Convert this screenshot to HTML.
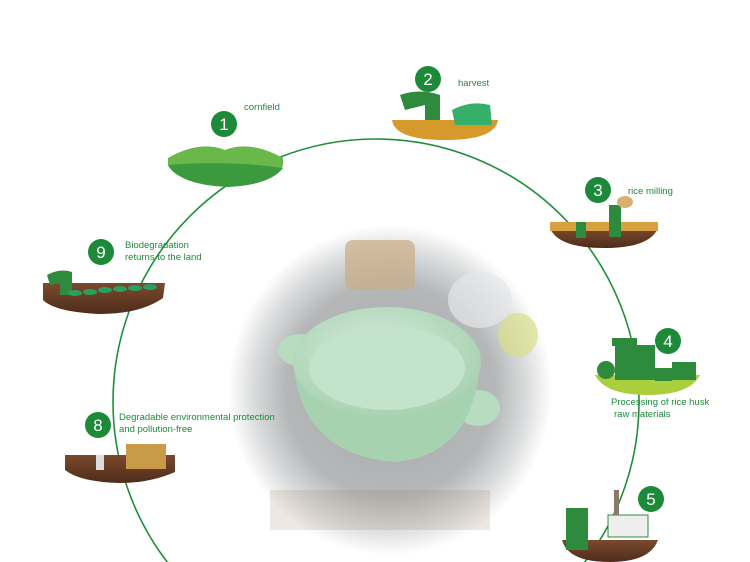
<!DOCTYPE html>
<html><head><meta charset="utf-8"><style>
html,body{margin:0;padding:0;background:#fff;width:750px;height:562px;overflow:hidden}
svg{display:block;position:absolute;left:0;top:0}
text{font-family:"Liberation Sans",sans-serif;fill:#1d8a3a;font-size:9.5px}
.n{fill:#fff;font-size:17px;text-anchor:middle}
</style></head><body>
<svg width="750" height="562" viewBox="0 0 750 562">
<defs>
<radialGradient id="ph" cx="0.5" cy="0.5" r="0.5">
<stop offset="0" stop-color="#a5a7a9"/><stop offset="0.65" stop-color="#b5b7b8"/><stop offset="0.85" stop-color="#dcddde"/><stop offset="1" stop-color="#fff"/>
</radialGradient>
<radialGradient id="bw" cx="0.45" cy="0.4" r="0.6"><stop offset="0" stop-color="#d5ecd9"/><stop offset="1" stop-color="#a9d2b2"/></radialGradient>
<linearGradient id="soil" x1="0" y1="0" x2="0" y2="1"><stop offset="0" stop-color="#7a4a2e"/><stop offset="1" stop-color="#4e2c1a"/></linearGradient>
</defs>
<circle cx="376" cy="402" r="263" fill="none" stroke="#1f8f3c" stroke-width="1.6"/>
<!-- photo -->
<ellipse cx="390" cy="390" rx="162" ry="165" fill="url(#ph)"/>
<rect x="345" y="240" width="70" height="50" rx="8" fill="#c9ad88" opacity="0.75"/>
<ellipse cx="518" cy="335" rx="20" ry="22" fill="#d7df86" opacity="0.7"/>
<ellipse cx="480" cy="300" rx="32" ry="28" fill="#e6e7e8" opacity="0.7"/>
<rect x="270" y="490" width="220" height="40" fill="#9a8060" opacity="0.18"/>
<ellipse cx="300" cy="350" rx="22" ry="16" fill="#b8dcc0"/>
<ellipse cx="478" cy="408" rx="22" ry="18" fill="#b8dcc0"/>
<path d="M293 360 Q300 455 395 462 Q475 455 480 360 Z" fill="#a7d2b0"/>
<ellipse cx="387" cy="362" rx="94" ry="55" fill="url(#bw)"/>
<ellipse cx="387" cy="368" rx="78" ry="42" fill="#c3e3ca"/>
<!-- 1 cornfield -->
<path d="M168 158 Q200 140 225 150 Q250 140 283 158 L283 165 Q280 182 228 187 Q175 182 168 165 Z" fill="#6bb84a"/>
<path d="M168 165 Q225 160 283 168 Q270 185 228 187 Q180 185 168 165Z" fill="#3a9a3d"/>
<circle cx="224" cy="124" r="13" fill="#1d8a3a"/><text class="n" x="224" y="130">1</text>
<text x="244" y="110">cornfield</text>
<!-- 2 harvest -->
<path d="M392 120 L498 120 Q495 140 445 140 Q395 140 392 120Z" fill="#d69a2a"/>
<path d="M400 95 Q420 88 440 95 L440 120 L425 120 L425 105 L405 110Z" fill="#2e8a3d"/>
<path d="M452 110 Q470 100 490 105 L492 125 L455 125Z" fill="#35b06a"/>
<circle cx="428" cy="79" r="13" fill="#1d8a3a"/><text class="n" x="428" y="85">2</text>
<text x="458" y="86">harvest</text>
<!-- 3 rice milling -->
<path d="M550 228 L658 228 Q650 248 604 248 Q558 248 550 228Z" fill="url(#soil)"/>
<rect x="550" y="222" width="108" height="9" fill="#d8a040"/>
<rect x="576" y="222" width="10" height="16" fill="#2e8a3d"/>
<rect x="609" y="205" width="12" height="32" fill="#2e8a3d"/>
<ellipse cx="625" cy="202" rx="8" ry="6" fill="#d9b070"/>
<circle cx="598" cy="190" r="13" fill="#1d8a3a"/><text class="n" x="598" y="196">3</text>
<text x="628" y="194">rice milling</text>
<!-- 4 processing -->
<path d="M595 375 L700 375 Q690 395 648 395 Q605 395 595 375Z" fill="#a9cf3c"/>
<rect x="615" y="345" width="40" height="35" fill="#2e8a3d"/>
<rect x="612" y="338" width="25" height="8" fill="#2e8a3d"/>
<rect x="655" y="368" width="17" height="13" fill="#2e8a3d"/>
<rect x="672" y="362" width="24" height="18" fill="#2e8a3d"/>
<circle cx="606" cy="370" r="9" fill="#2e8a3d"/>
<circle cx="668" cy="341" r="13" fill="#1d8a3a"/><text class="n" x="668" y="347">4</text>
<text x="611" y="405">Processing of rice husk</text>
<text x="614" y="417">raw materials</text>
<!-- 5 -->
<path d="M562 540 L658 540 Q650 562 610 562 Q568 562 562 540Z" fill="url(#soil)"/>
<rect x="566" y="508" width="22" height="42" fill="#2e8a3d"/>
<rect x="608" y="515" width="40" height="22" fill="#eee" stroke="#2e8a3d"/>
<rect x="614" y="490" width="5" height="25" fill="#8a7a6a"/>
<circle cx="651" cy="499" r="13" fill="#1d8a3a"/><text class="n" x="651" y="505">5</text>
<!-- 9 -->
<path d="M43 283 L165 283 L163 298 Q140 314 100 314 Q55 312 43 300Z" fill="url(#soil)"/>
<path d="M47 275 Q60 268 72 272 L72 295 L60 295 L60 283 L50 285Z" fill="#2e8a3d"/>
<g fill="#2aa060"><ellipse cx="75" cy="293" rx="7" ry="3"/><ellipse cx="90" cy="292" rx="7" ry="3"/><ellipse cx="105" cy="290" rx="7" ry="3"/><ellipse cx="120" cy="289" rx="7" ry="3"/><ellipse cx="135" cy="288" rx="7" ry="3"/><ellipse cx="150" cy="287" rx="7" ry="3"/></g>
<circle cx="101" cy="252" r="13" fill="#1d8a3a"/><text class="n" x="101" y="258">9</text>
<text x="125" y="248">Biodegradation</text>
<text x="125" y="260">returns to the land</text>
<!-- 8 -->
<path d="M65 455 L175 455 L175 472 Q150 483 120 483 Q80 482 65 470Z" fill="url(#soil)"/>
<rect x="126" y="444" width="40" height="25" fill="#c99a4a"/>
<rect x="96" y="455" width="8" height="15" fill="#ddd"/>
<circle cx="98" cy="425" r="13" fill="#1d8a3a"/><text class="n" x="98" y="431">8</text>
<text x="119" y="420">Degradable environmental protection</text>
<text x="119" y="432">and pollution-free</text>
</svg>
</body></html>
